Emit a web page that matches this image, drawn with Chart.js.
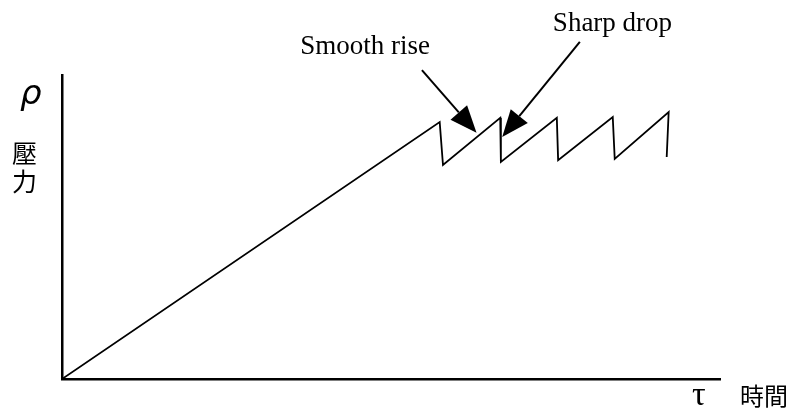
<!DOCTYPE html>
<html>
<head>
<meta charset="utf-8">
<script src="https://cdn.jsdelivr.net/npm/chart.js@4"></script>
<style>
  html, body { margin: 0; padding: 0; background: #fff; }
  #wrap { width: 795px; height: 409px; }
</style>
</head>
<body>
<div id="wrap"><canvas id="pChart"></canvas></div>
<script>
// time (x) and pressure (y), axes run 0..100
const timeVals = [0, 57.4, 57.9, 66.6, 66.7, 75.2, 75.4, 83.7, 84.0, 92.2, 91.9];
const pressureVals = [0, 84.5, 70.4, 85.9, 71.4, 85.9, 72.0, 86.2, 72.4, 87.8, 73.0];

// annotations: label, text anchor, arrow tail and arrow tip (data units)
const noteLabels = ["Smooth rise", "Sharp drop"];
const noteTextAt = [[36.2, 106.9], [74.6, 114.5]];
const arrowFrom = [[54.7, 101.6], [78.7, 110.9]];
const arrowTo = [[63.0, 81.0], [66.9, 79.6]];

// axis labels
const yLabel = "ρ";
const yLabelCjk = ["壓", "力"];
const xLabel = "τ";
const xLabelCjk = "時間";

const points = timeVals.map((t, i) => ({ x: t, y: pressureVals[i] }));

// draws the annotation arrows and axis labels
const sketchLabels = {
  id: "sketchLabels",
  afterDatasetsDraw(chart) {
    const { ctx, scales } = chart;
    const xs = scales.x, ys = scales.y;
    ctx.save();
    ctx.fillStyle = "#000";
    ctx.strokeStyle = "#000";

    // arrows
    arrowFrom.forEach((from, i) => {
      const x0 = xs.getPixelForValue(from[0]), y0 = ys.getPixelForValue(from[1]);
      const x1 = xs.getPixelForValue(arrowTo[i][0]), y1 = ys.getPixelForValue(arrowTo[i][1]);
      const ang = Math.atan2(y1 - y0, x1 - x0);
      const headLen = 27, headW = 11;
      const bx = x1 - headLen * Math.cos(ang), by = y1 - headLen * Math.sin(ang);
      ctx.lineWidth = 2;
      ctx.beginPath();
      ctx.moveTo(x0, y0);
      ctx.lineTo(bx, by);
      ctx.stroke();
      ctx.beginPath();
      ctx.moveTo(x1, y1);
      ctx.lineTo(bx + headW * Math.sin(ang), by - headW * Math.cos(ang));
      ctx.lineTo(bx - headW * Math.sin(ang), by + headW * Math.cos(ang));
      ctx.closePath();
      ctx.fill();
    });

    // annotation text
    ctx.font = "27px 'Liberation Serif', 'Times New Roman', serif";
    ctx.textAlign = "left";
    ctx.textBaseline = "alphabetic";
    noteLabels.forEach((txt, i) => {
      ctx.fillText(txt, xs.getPixelForValue(noteTextAt[i][0]), ys.getPixelForValue(noteTextAt[i][1]));
    });

    // y axis label
    ctx.font = "italic 34px 'DejaVu Sans', sans-serif";
    ctx.fillText(yLabel, 20, 104);
    ctx.font = "25px 'Noto Sans CJK TC', sans-serif";
    yLabelCjk.forEach((ch, i) => ctx.fillText(ch, 12, 163 + i * 28));

    // x axis label
    ctx.font = "34px 'Liberation Serif', serif";
    ctx.fillText(xLabel, 692, 405);
    ctx.font = "24px 'Noto Sans CJK TC', sans-serif";
    ctx.fillText(xLabelCjk, 740, 405);
    ctx.restore();
  }
};

new Chart(document.getElementById("pChart"), {
  type: "line",
  data: {
    datasets: [{
      data: points,
      borderColor: "#000",
      borderWidth: 1.8,
      pointRadius: 0,
      tension: 0,
      fill: false
    }]
  },
  options: {
    responsive: true,
    maintainAspectRatio: false,
    animation: false,
    layout: { padding: { left: 54, top: 75, right: 75, bottom: 22 } },
    scales: {
      x: {
        type: "linear",
        min: 0,
        max: 100,
        grid: { display: false },
        ticks: { display: false },
        border: { display: true, color: "#000", width: 2.5 }
      },
      y: {
        min: 0,
        max: 100,
        grid: { display: false },
        ticks: { display: false },
        border: { display: true, color: "#000", width: 2.5 }
      }
    },
    plugins: {
      legend: { display: false },
      tooltip: { enabled: false }
    }
  },
  plugins: [sketchLabels]
});
</script>
</body>
</html>
